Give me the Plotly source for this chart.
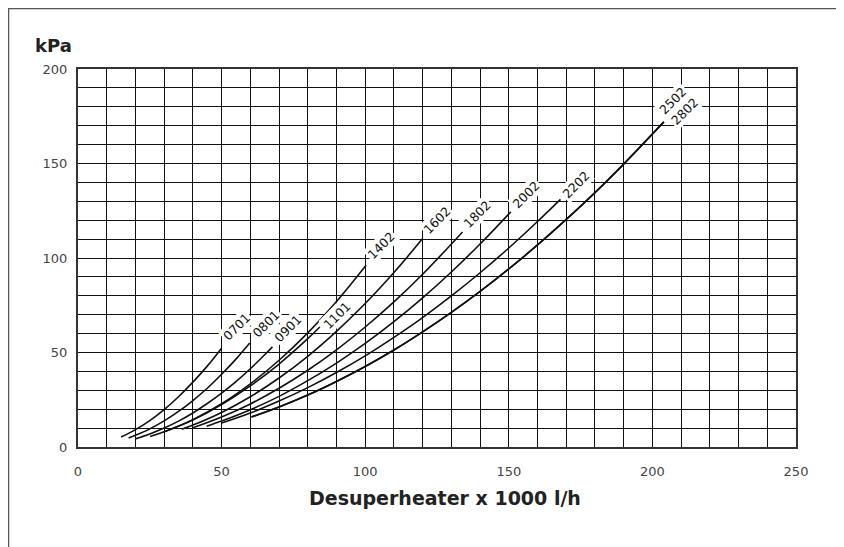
import plotly.graph_objects as go

# ---- data ----
labels = ["0701", "0801", "0901", "1101", "1402", "1602", "1802", "2002", "2202", "2502", "2802"]

x_0701 = [15, 20, 25, 30, 35, 40, 45, 50]
y_0701 = [5.3, 9.2, 14.0, 19.8, 26.6, 34.3, 42.8, 52.3]

x_0801 = [17.6, 20, 25, 30, 35, 40, 45, 50, 55, 59.8]
y_0801 = [4.8, 6.2, 9.6, 13.8, 18.8, 24.6, 31.1, 38.5, 46.5, 55.0]

x_0901 = [19.9, 25, 30, 35, 40, 45, 50, 55, 60, 65, 67.7]
y_0901 = [4.3, 6.9, 10.0, 13.7, 18.0, 23.0, 28.5, 34.6, 41.4, 48.8, 53.0]

x_1101 = [25.1, 30, 40, 50, 60, 70, 80, 84.2]
y_1101 = [5.6, 8.1, 14.3, 22.4, 32.3, 43.9, 57.3, 63.5]

x_1402 = [29.7, 40, 50, 60, 70, 80, 90, 100.3]
y_1402 = [7.8, 14.5, 22.9, 33.4, 45.9, 60.4, 77.0, 96.2]

x_1602 = [36.1, 40, 50, 60, 70, 80, 90, 100, 110, 120]
y_1602 = [9.4, 11.6, 18.3, 26.6, 36.5, 48.0, 61.2, 75.9, 92.3, 110.3]

x_1802 = [40, 50, 60, 70, 80, 90, 100, 110, 120, 133.9]
y_1802 = [10.2, 15.9, 22.8, 31.1, 40.6, 51.4, 63.5, 76.8, 91.4, 113.8]

x_2002 = [44.8, 50, 60, 70, 80, 90, 100, 110, 120, 130, 140, 150.7]
y_2002 = [11.0, 13.7, 19.7, 26.8, 35.1, 44.4, 54.8, 66.3, 78.9, 92.6, 107.4, 124.4]

x_2202 = [50, 60, 70, 80, 90, 100, 110, 120, 130, 140, 150, 160, 168]
y_2202 = [12.7, 18.0, 24.3, 31.4, 39.4, 48.2, 58.0, 68.5, 79.9, 92.2, 105.3, 119.3, 131.0]

x_2502 = [60.4, 70, 80, 90, 100, 110, 120, 130, 140, 150, 160, 170, 180, 190, 204]
y_2502 = [15.9, 21.2, 27.5, 34.7, 42.6, 51.3, 60.9, 71.2, 82.3, 94.2, 106.9, 120.4, 134.6, 149.7, 172.0]

x_2802 = x_2502
y_2802 = y_2502

curve_x = [x_0701, x_0801, x_0901, x_1101, x_1402, x_1602, x_1802, x_2002, x_2202, x_2502, x_2802]
curve_y = [y_0701, y_0801, y_0901, y_1101, y_1402, y_1602, y_1802, y_2002, y_2202, y_2502, y_2802]

# label anchor positions (data units)
label_x = [55.4, 65.6, 73.1, 90.1, 105.5, 124.9, 138.8, 156.1, 173.5, 207.2, 211.2]
label_y = [63.5, 65.3, 62.7, 69.7, 106.8, 120.0, 123.2, 133.6, 138.9, 183.2, 177.4]

x_ticks = [0, 50, 100, 150, 200, 250]
y_ticks = [0, 50, 100, 150, 200]

x_title = "Desuperheater x 1000 l/h"
y_title = "kPa"

FONT = "DejaVu Sans"

# ---- figure ----
fig = go.Figure()
for cx, cy, name in zip(curve_x, curve_y, labels):
    fig.add_trace(go.Scatter(x=cx, y=cy, mode="lines", name=name,
                             line=dict(color="#111111", width=1.6, shape="spline"),
                             showlegend=False, hoverinfo="skip"))

for lx, ly, name in zip(label_x, label_y, labels):
    fig.add_annotation(x=lx, y=ly, xref="x", yref="y", text=name, showarrow=False,
                       textangle=-45, bgcolor="white", borderpad=1,
                       font=dict(family=FONT, size=12.5, color="#111111"))

tick_font = dict(family=FONT, size=13, color="#444444")

fig.update_xaxes(range=[0, 250], tickvals=x_ticks, ticktext=[str(v) for v in x_ticks],
                 showgrid=True, gridcolor="#111111", gridwidth=1,
                 minor=dict(dtick=10, showgrid=True, gridcolor="#111111", gridwidth=1),
                 showline=True, linecolor="#333333", linewidth=2, mirror=True,
                 ticks="", ticklabelstandoff=11, tickfont=tick_font, zeroline=False)
fig.update_yaxes(range=[0, 200], tickvals=y_ticks, ticktext=[str(v) for v in y_ticks],
                 showgrid=True, gridcolor="#111111", gridwidth=1,
                 minor=dict(dtick=10, showgrid=True, gridcolor="#111111", gridwidth=1),
                 showline=True, linecolor="#333333", linewidth=2, mirror=True,
                 ticks="", ticklabelstandoff=6, tickfont=tick_font, zeroline=False)

fig.add_annotation(xref="paper", yref="paper", x=-0.063, y=1.061, xanchor="left", yanchor="middle",
                   text="<b>" + y_title + "</b>", showarrow=False,
                   font=dict(family=FONT, size=18, color="#222222"))
fig.add_annotation(xref="paper", yref="paper", x=0.511, y=-0.135, xanchor="center", yanchor="middle",
                   text="<b>" + x_title + "</b>", showarrow=False,
                   font=dict(family=FONT, size=19, color="#222222"))

# outer frame
fig.add_shape(type="rect", xref="paper", yref="paper", x0=-0.0968, x1=1.0599, y0=-0.30, y1=1.160,
              line=dict(color="#555555", width=1.5), fillcolor="rgba(0,0,0,0)", layer="below")

fig.update_layout(width=836, height=539, margin=dict(l=70, r=48, t=61, b=100),
                  paper_bgcolor="white", plot_bgcolor="white", showlegend=False)

fig.write_html("out.html")
